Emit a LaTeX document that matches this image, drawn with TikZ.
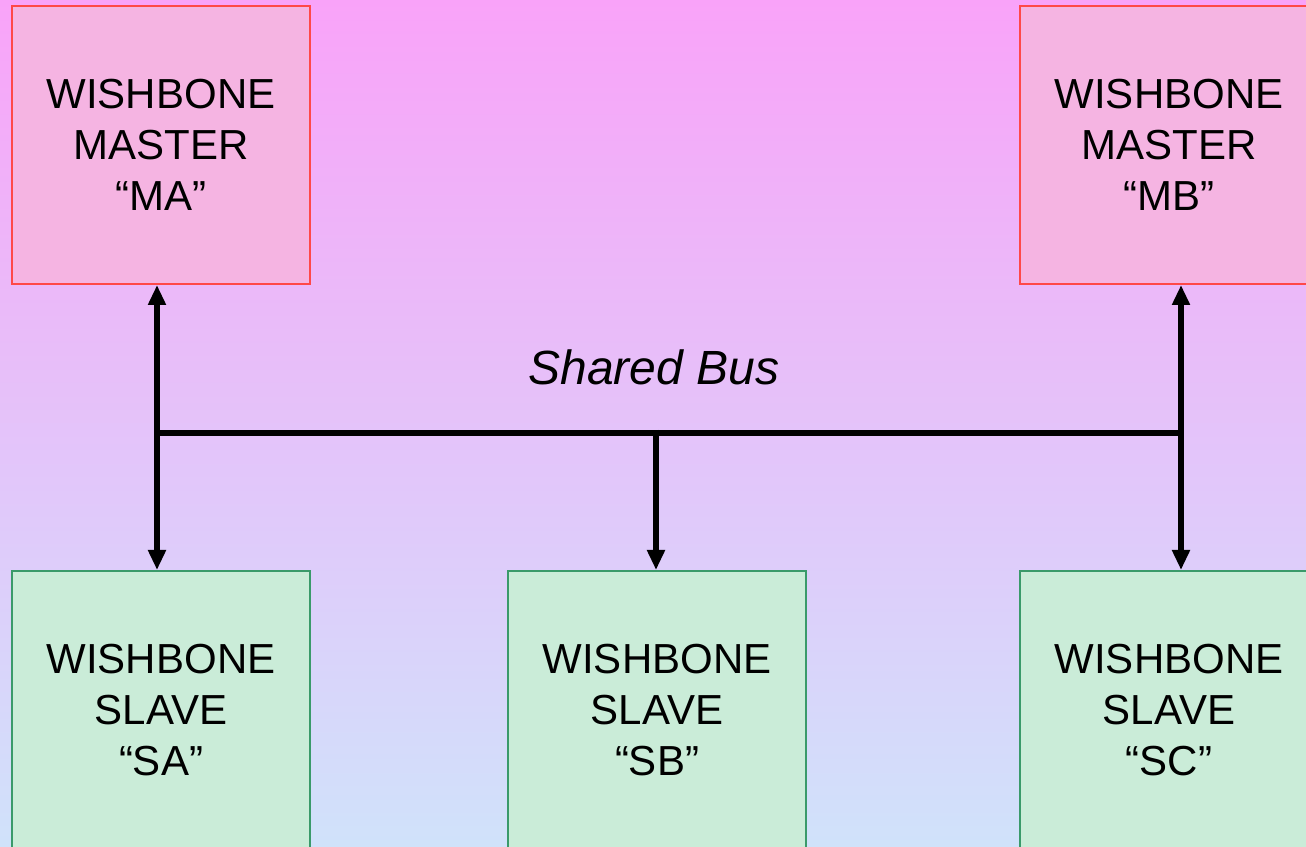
\documentclass[tikz,border=0pt]{standalone}
\usepackage{fontspec}
\setmainfont{Liberation Sans}
\usetikzlibrary{arrows.meta}
\definecolor{bgtop}{RGB}{249,163,249}
\definecolor{bgbot}{RGB}{208,226,250}
\definecolor{mfill}{RGB}{245,180,226}
\definecolor{mdraw}{RGB}{255,72,72}
\definecolor{sfill}{RGB}{202,236,216}
\definecolor{sdraw}{RGB}{58,154,106}
\tikzset{
  blk/.style={minimum width=298pt, minimum height=278pt, inner sep=0pt, align=center,
    line width=2pt, font=\fontsize{42}{51}\selectfont},
  masterbox/.style={blk, draw=mdraw, fill=mfill},
  slavebox/.style={blk, draw=sdraw, fill=sfill},
  bus/.style={line width=6pt},
  busarrow/.style={line width=6pt, -{Triangle[length=20pt,width=17pt]}}
}
\begin{document}
\begin{tikzpicture}[x=1pt,y=1pt]
\useasboundingbox (0,0) rectangle (1306,846);
\shade[top color=bgtop, bottom color=bgbot] (0,0) rectangle (1306,846);
\node[masterbox] (MA) at (161,701) {WISHBONE\\MASTER\\“MA”};
\node[masterbox] (MB) at (1169,701) {WISHBONE\\MASTER\\“MB”};
\node[slavebox] (SA) at (161,136) {WISHBONE\\SLAVE\\“SA”};
\node[slavebox] (SB) at (657,136) {WISHBONE\\SLAVE\\“SB”};
\node[slavebox] (SC) at (1169,136) {WISHBONE\\SLAVE\\“SC”};
\coordinate (J1) at (157,413);
\coordinate (J2) at (656,413);
\coordinate (J3) at (1181,413);
\draw[bus] ([xshift=-3pt]J1) -- ([xshift=3pt]J3);
\draw[busarrow] (J1) -- (J1 |- MA.south);
\draw[busarrow] (J1) -- (J1 |- SA.north);
\draw[busarrow] ([yshift=3pt]J2) -- (J2 |- SB.north);
\draw[busarrow] (J3) -- (J3 |- MB.south);
\draw[busarrow] (J3) -- (J3 |- SC.north);
\node[font=\fontsize{48}{58}\selectfont\itshape, anchor=base, inner sep=0pt] (LBL) at (654,461) {Shared Bus};
\end{tikzpicture}
\end{document}
